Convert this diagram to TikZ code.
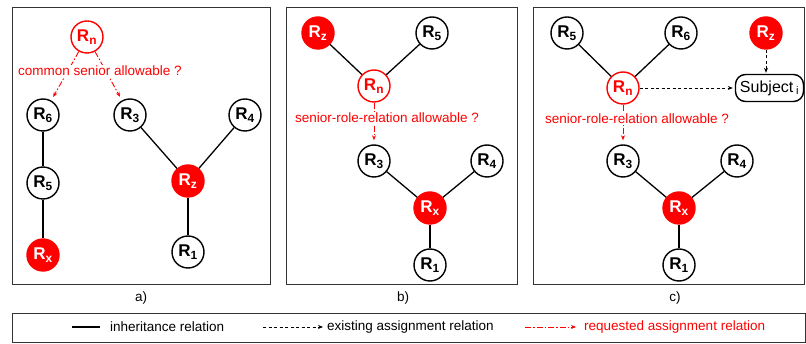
\documentclass[tikz,border=0pt]{standalone}
\usepackage{fontspec}
\setmainfont{Liberation Sans}
\usepackage{tikz}
\usetikzlibrary{arrows.meta}
\newcommand{\rl}[1]{R\textsubscript{#1}}

\begin{document}
\begin{tikzpicture}[x=1pt,y=-1pt,
    role/.style={draw, circle, line width=1.4pt, minimum size=32pt, inner sep=0pt, font=\bfseries\fontsize{17}{17}\selectfont},
    newrole/.style={role, draw=red, text=red},
    hotrole/.style={role, draw=red, fill=red, text=white},
    inh/.style={line width=1.3pt},
    exist/.style={line width=0.9pt, dash pattern=on 3pt off 2.5pt, -{Stealth[length=5pt,width=4pt]}},
    ask/.style={red, line width=0.9pt, dash pattern=on 6pt off 2pt on 1.5pt off 2pt, -{Stealth[length=5pt,width=4pt]}, shorten >=4pt},
    asklabel/.style={fill=white, text=red, inner sep=1pt, font=\fontsize{13.5}{14}\selectfont},
    panel/.style={draw=black!80, line width=0.9pt, inner sep=0pt},
    legtext/.style={anchor=west, inner sep=0pt, font=\fontsize{13.5}{14}\selectfont}]
  \useasboundingbox (0,0) rectangle (806,344);

  % three panels and the legend box
  \node[panel, minimum width=258pt, minimum height=277pt] (pa) at (141,145.5) {};
  \node[panel, minimum width=231pt, minimum height=277pt] (pb) at (401.5,145.5) {};
  \node[panel, minimum width=271pt, minimum height=277pt] (pc) at (669,145.5) {};
  \node[panel, minimum width=793pt, minimum height=29pt] (pleg) at (408.5,327.5) {};
  \node[font=\fontsize{13.5}{14}\selectfont] (capa) at (141,298) {a)};
  \node[font=\fontsize{13.5}{14}\selectfont] (capb) at (403,298) {b)};
  \node[font=\fontsize{13.5}{14}\selectfont] (capc) at (675,298) {c)};

  % a)
  \node[newrole] (an) at (87,37) {\rl{n}};
  \node[role] (a6) at (43,115) {\rl{6}};
  \node[role] (a5) at (43,183) {\rl{5}};
  \node[hotrole] (ax) at (43,255) {\rl{x}};
  \node[role] (a3) at (130,115) {\rl{3}};
  \node[role] (a4) at (245,115) {\rl{4}};
  \node[hotrole] (az) at (188,181) {\rl{z}};
  \node[role] (a1) at (188,252) {\rl{1}};
  \draw[inh] (a6) -- (a5);
  \draw[inh] (a5) -- (ax);
  \draw[inh] (a3) -- (az);
  \draw[inh] (a4) -- (az);
  \draw[inh] (az) -- (a1);
  \draw[ask] (an) -- (a6);
  \draw[ask] (an) -- (a3);
  \node[asklabel] (alab) at (100,71) {common senior allowable ?};

  % b)
  \node[hotrole] (bz) at (318,33) {\rl{z}};
  \node[role] (b5) at (432,33) {\rl{5}};
  \node[newrole] (bn) at (374,86) {\rl{n}};
  \node[role] (b3) at (374,161) {\rl{3}};
  \node[role] (b4) at (487,161) {\rl{4}};
  \node[hotrole] (bx) at (430,208) {\rl{x}};
  \node[role] (b1) at (430,265) {\rl{1}};
  \draw[inh] (bz) -- (bn);
  \draw[inh] (b5) -- (bn);
  \draw[inh] (b3) -- (bx);
  \draw[inh] (b4) -- (bx);
  \draw[inh] (bx) -- (b1);
  \draw[ask] (bn) -- (b3);
  \node[asklabel] (blab) at (387,118) {senior-role-relation allowable ?};

  % c)
  \node[role] (c5) at (567,33) {\rl{5}};
  \node[role] (c6) at (681,33) {\rl{6}};
  \node[hotrole] (cz) at (766,33) {\rl{z}};
  \node[newrole] (cn) at (623,88) {\rl{n}};
  \node[draw, rounded corners=10pt, line width=1.4pt, minimum width=68pt, minimum height=27pt, inner sep=1pt, font=\fontsize{16}{16}\selectfont] (csub) at (769.5,88) {Subject\,\textsubscript{i}};
  \node[role] (c3) at (623,161) {\rl{3}};
  \node[role] (c4) at (737,161) {\rl{4}};
  \node[hotrole] (cx) at (679,208) {\rl{x}};
  \node[role] (c1) at (679,265) {\rl{1}};
  \draw[inh] (c5) -- (cn);
  \draw[inh] (c6) -- (cn);
  \draw[inh] (c3) -- (cx);
  \draw[inh] (c4) -- (cx);
  \draw[inh] (cx) -- (c1);
  \draw[exist, shorten >=2pt] (cn) -- (csub);
  \draw[exist, shorten >=1pt] (cz) -- (cz |- csub.north);
  \draw[ask] (cn) -- (c3);
  \node[asklabel] (clab) at (637,119) {senior-role-relation allowable ?};

  % legend
  \coordinate (l1a) at (72,327);
  \coordinate (l1b) at (100,327);
  \draw[inh] (l1a) -- (l1b);
  \node[legtext] (l1t) at (110,327) {inheritance relation};
  \coordinate (l2a) at (263,327);
  \coordinate (l2b) at (323,327);
  \draw[exist] (l2a) -- (l2b);
  \node[legtext] (l2t) at (327,327) {existing assignment relation};
  \coordinate (l3a) at (525,327);
  \coordinate (l3b) at (576,327);
  \draw[ask, shorten >=0pt] (l3a) -- (l3b);
  \node[legtext, text=red] (l3t) at (584,327) {requested assignment relation};
\end{tikzpicture}
\end{document}
